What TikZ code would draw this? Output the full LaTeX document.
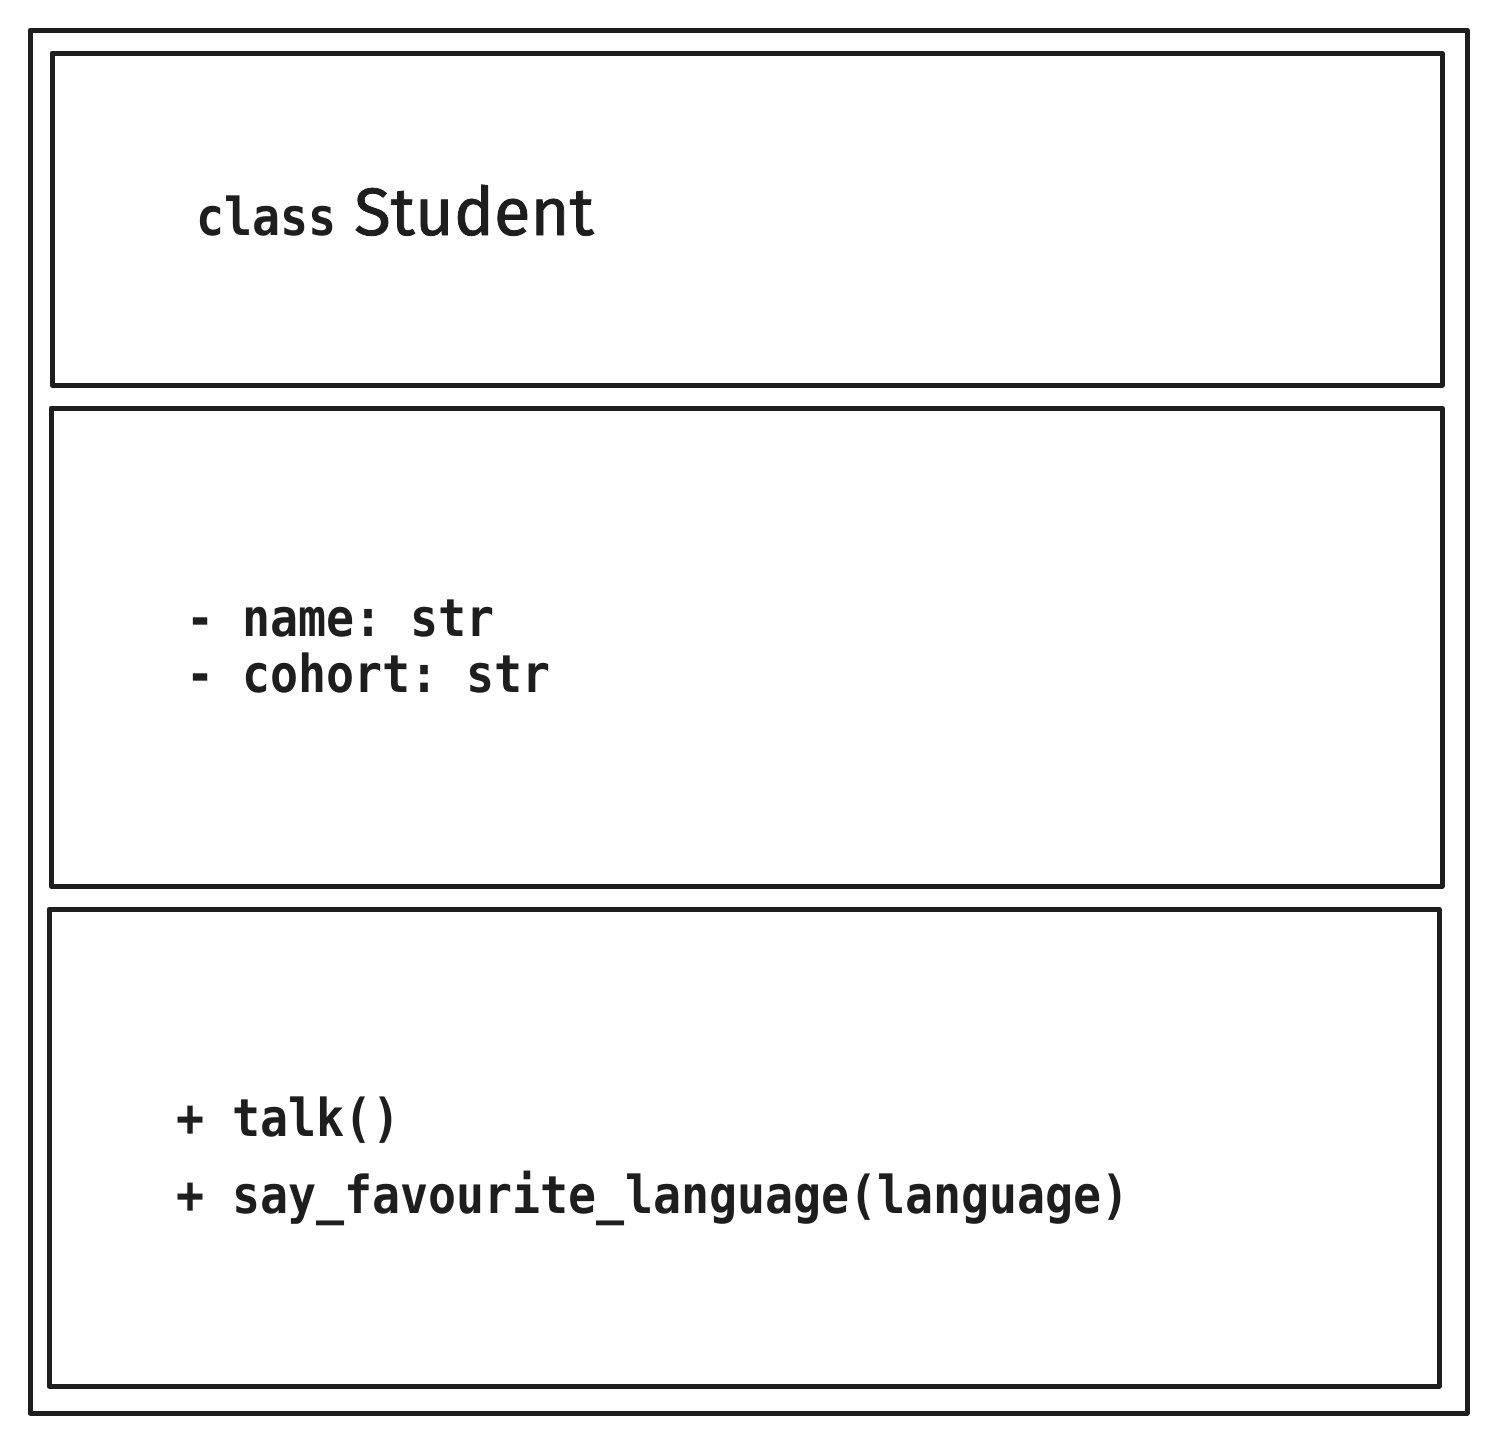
\documentclass[tikz,border=0pt]{standalone}
\usepackage{fontspec}
\setmainfont{Fira Sans}
\newfontfamily\titlefont{Fira Sans}[FakeBold=1.2]
\newfontfamily\codefont{DejaVu Sans Mono}
\definecolor{ink}{HTML}{1E1E1E}
\frenchspacing
\begin{document}
\begin{tikzpicture}[x=1pt,y=-1pt,
  frame/.style={draw=ink,line width=5pt,line join=round},
  code/.style={inner sep=0pt,anchor=base west,text=ink,font=\codefont\bfseries\fontsize{46.6}{56}\selectfont\frenchspacing},
  title/.style={inner sep=0pt,anchor=base west,text=ink,font=\titlefont\fontsize{67}{72}\selectfont}]
\useasboundingbox (0,0) rectangle (1497,1443);
\draw[frame] (30,30) rectangle (1467,1413);
\draw[frame] (52,53) rectangle (1442,385);
\draw[frame] (51,408) rectangle (1442,886);
\draw[frame] (49,909) rectangle (1439,1386);
\node[code] (kw) at (196,235) {\scalebox{1}[1.12]{class}};
\node[title] (name) at (354,235) {Student};
\node[code] (a1) at (186,636) {\scalebox{1}[1.12]{- name: str}};
\node[code] (a2) at (186,692) {\scalebox{1}[1.12]{- cohort: str}};
\node[code] (m1) at (176,1136) {\scalebox{1}[1.12]{+ talk()}};
\node[code] (m2) at (176,1213) {\scalebox{1}[1.12]{+ say\_favourite\_language(language)}};
\end{tikzpicture}
\end{document}
